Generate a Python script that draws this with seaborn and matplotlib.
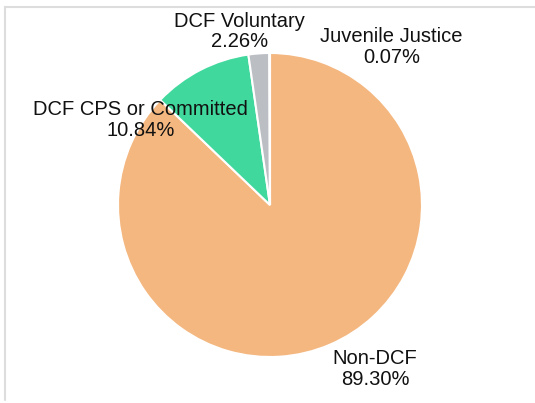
import matplotlib
matplotlib.use('Agg')
import matplotlib.pyplot as plt
import seaborn as sns
from matplotlib.lines import Line2D

categories = ['Non-DCF', 'DCF CPS or Committed', 'DCF Voluntary', 'Juvenile Justice']
percentages = [89.30, 10.84, 2.26, 0.07]
label_texts = ['Non-DCF\n89.30%', 'DCF CPS or Committed\n10.84%',
               'DCF Voluntary\n2.26%', 'Juvenile Justice\n0.07%']

colors = ['#F4B780', '#40D89D', '#BBBEC2', '#8FA8C8']
# label anchor positions in pie units (radius = 1)
label_pos = [(0.69, -1.08), (-0.85, 0.56), (-0.20, 1.14), (0.80, 1.04)]

sns.set_theme(style='white')
plt.rcParams['font.family'] = ['Liberation Sans', 'DejaVu Sans']

W, H = 535, 403
fig = plt.figure(figsize=(W / 100, H / 100), dpi=100)

cx, cy, r = 270, 205, 152
ax = fig.add_axes([(cx - r) / W, (H - cy - r) / H, 2 * r / W, 2 * r / H])

ax.pie(percentages, colors=colors, startangle=90, counterclock=False,
       radius=1, wedgeprops=dict(edgecolor='white', linewidth=1.5))
ax.set_xlim(-1, 1)
ax.set_ylim(-1, 1)
ax.set_aspect('equal')
ax.axis('off')

for txt, (x, y) in zip(label_texts, label_pos):
    ax.text(x, y, txt, ha='center', va='center', fontsize=14.5,
            color='#111111', linespacing=1.1, clip_on=False)

# light frame at top and left
fig.add_artist(Line2D([5 / W, 1], [1 - 7 / H, 1 - 7 / H], color='#dddddd', lw=1.5))
fig.add_artist(Line2D([5 / W, 5 / W], [3 / H, 1 - 7 / H], color='#dddddd', lw=1.5))

fig.savefig('out.png', dpi=100)
